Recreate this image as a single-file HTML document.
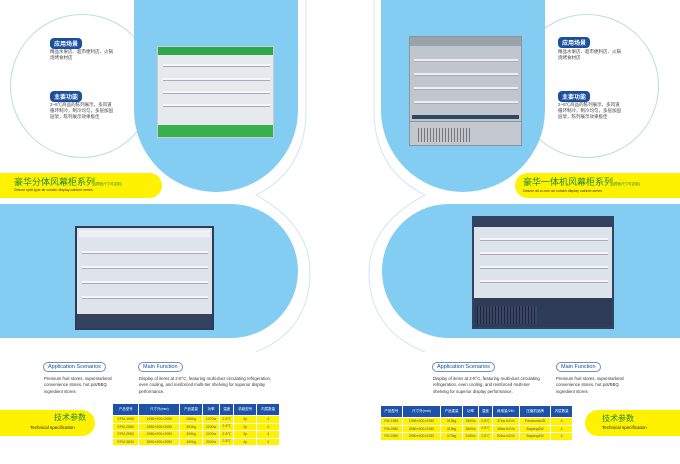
<!DOCTYPE html>
<html><head><meta charset="utf-8"><style>
*{margin:0;padding:0;box-sizing:border-box}
body{width:680px;height:464px;background:#fff;position:relative;overflow:hidden;font-family:"Liberation Sans","Noto Sans CJK SC",sans-serif}
.a{position:absolute}
.blue{background:#82cdf1}
.ring{border:1px solid #b7dde8;border-radius:50%}
.tag{background:#1b4f9c;color:#fff;font-size:6px;padding:1px 4px;border-radius:4px;font-weight:bold}
.cn{font-size:4.5px;color:#444;line-height:6px}
.yel{background:#fff200}
.pill{border:1px solid #6a8fc0;border-radius:6px;font-size:5.5px;color:#1e4a8a;padding:1px 4px}
.en{font-size:4.3px;color:#333;line-height:6.3px}
table{border-collapse:separate;border-spacing:1px;font-size:3.5px;text-align:center}
th{background:#1d52a8;color:#fff;height:11px;font-weight:normal}
td{background:#fff200;color:#555;height:6.5px}
.shelf{position:absolute;left:4%;right:3%;height:2px;background:#f4f6f8;box-shadow:0 1px 0 #aab}
</style></head><body>

<svg class="a" style="left:0;top:0" width="680" height="464">
<g fill="none" stroke="#c4e2ec" stroke-width="0.8">
<path d="M306,0 L306,110 Q306,170 256,195 Q310,225 310,272 Q310,330 256,352"/>
<path d="M374,0 L374,110 Q374,170 425,195 Q369,225 369,272 Q369,330 425,352"/>
</g></svg>

<!-- LEFT PAGE -->
<div class="a ring" style="left:10px;top:14px;width:144px;height:144px"></div>
<div class="a blue" style="left:134px;top:-10px;width:164px;height:202px;border-radius:0 0 82px 82px"></div>
<div class="a tag" style="left:50px;top:38px">应用场景</div>
<div class="a cn" style="left:50px;top:49px">精品水果店、超市便利店、火锅<br>烧烤食材店</div>
<div class="a tag" style="left:50px;top:91px">主要功能</div>
<div class="a cn" style="left:50px;top:102px">2~8℃商品的陈列展示，多风道<br>循环制冷，制冷均匀，多层加固<br>层架，陈列展示效果极佳</div>

<div class="a" style="left:157px;top:46px;width:117px;height:92px;background:#e6eaee;border:1px solid #ccc">
 <div class="a" style="left:0;top:0;width:100%;height:8px;background:#2ea84a"></div>
 <div class="a" style="left:0;bottom:0;width:100%;height:12px;background:#37b04d"></div>
 <div class="shelf" style="top:17px"></div><div class="shelf" style="top:31px"></div>
 <div class="shelf" style="top:44px"></div><div class="shelf" style="top:57px"></div>
</div>

<div class="a yel" style="left:0;top:173px;width:162px;height:25px;border-radius:0 13px 13px 0"></div>
<div class="a" style="left:14px;top:175px;font-size:9px;color:#1e8a3a;white-space:nowrap">豪华分体风幕柜系列<span style="font-size:3.5px">(颜色尺寸可定制)</span></div>
<div class="a" style="left:14px;top:188px;font-size:3.6px;color:#333;white-space:nowrap">Deluxe split-type air curtain display cabinet series</div>

<div class="a blue" style="left:0;top:204px;width:298px;height:134px;border-radius:0 67px 67px 0"></div>
<div class="a" style="left:75px;top:226px;width:139px;height:104px;background:#dfe4ea;border:2px solid #2f3c58">
 <div class="a" style="left:2px;top:2px;right:2px;height:7px;background:#eef0f4"></div>
 <div class="a" style="left:0;bottom:0;width:100%;height:14px;background:#34425f"></div>
 <div class="shelf" style="top:23px"></div><div class="shelf" style="top:38px"></div>
 <div class="shelf" style="top:53px"></div><div class="shelf" style="top:68px"></div>
</div>

<div class="a pill" style="left:43px;top:362px">Application Scenarios</div>
<div class="a en" style="left:44px;top:376px">Premium fruit stores, supermarkets/<br>convenience stores, hot pot/BBQ<br>ingredient stores</div>
<div class="a pill" style="left:138px;top:362px">Main Function</div>
<div class="a en" style="left:139px;top:376px">Display of items at 2-8°C, featuring multi-duct circulating refrigeration,<br>even cooling, and reinforced multi-tier shelving for superior display<br>performance.</div>

<div class="a yel" style="left:0;top:410px;width:95px;height:26px;border-radius:0 13px 13px 0"></div>
<div class="a" style="left:54px;top:412px;font-size:8px;color:#1e8a3a">技术参数</div>
<div class="a" style="left:30px;top:425px;font-size:4.5px;color:#222">Technical specification</div>
<table class="a" style="left:112px;top:403px;width:168px">
<tr><th>产品型号</th><th>尺寸外(mm)</th><th>产品重量</th><th>功率</th><th>温度</th><th>机组型号</th><th>内层数量</th></tr>
<tr><td>EFM-1955</td><td>1955×900×2050</td><td>266kg</td><td>1470w</td><td>2-8℃</td><td>3p</td><td>4</td></tr>
<tr><td>EFM-2580</td><td>2580×900×2050</td><td>351kg</td><td>2200w</td><td>2-8℃</td><td>3p</td><td>4</td></tr>
<tr><td>EFM-2980</td><td>2980×900×2050</td><td>409kg</td><td>2200w</td><td>2-8℃</td><td>3p</td><td>4</td></tr>
<tr><td>EFM-3830</td><td>3830×900×2050</td><td>490kg</td><td>2940w</td><td>2-8℃</td><td>4p</td><td>4</td></tr>
</table>

<!-- RIGHT PAGE -->
<div class="a ring" style="left:515px;top:14px;width:144px;height:144px"></div>
<div class="a blue" style="left:381px;top:-10px;width:164px;height:202px;border-radius:0 0 82px 82px"></div>
<div class="a tag" style="left:558px;top:37px">应用场景</div>
<div class="a cn" style="left:558px;top:49px">精品水果店、超市便利店、火锅<br>烧烤食材店</div>
<div class="a tag" style="left:558px;top:91px">主要功能</div>
<div class="a cn" style="left:558px;top:102px">2~8℃商品的陈列展示，多风道<br>循环制冷，制冷均匀，多层加固<br>层架，陈列展示效果极佳</div>

<div class="a" style="left:409px;top:36px;width:113px;height:110px;background:#bfc6cc;border:1px solid #8c959d">
 <div class="a" style="left:0;top:0;width:100%;height:9px;background:#9aa3ab"></div>
 <div class="a" style="left:2px;top:78px;right:2px;height:4px;background:#2f4760"></div>
 <div class="a" style="left:0;bottom:0;width:100%;height:24px;background:#c2c8cd;border-top:1px solid #8c959d"></div>
 <div class="a" style="left:8px;bottom:3px;width:52px;height:14px;background:repeating-linear-gradient(90deg,#777 0 1px,#c2c8cd 1px 3px)"></div>
 <div class="shelf" style="top:22px;background:#eee"></div><div class="shelf" style="top:36px;background:#eee"></div>
 <div class="shelf" style="top:50px;background:#eee"></div><div class="shelf" style="top:64px;background:#eee"></div>
</div>

<div class="a yel" style="left:515px;top:173px;width:170px;height:25px;border-radius:13px 0 0 13px"></div>
<div class="a" style="left:523px;top:175px;font-size:9px;color:#1e8a3a;white-space:nowrap">豪华一体机风幕柜系列<span style="font-size:3.5px">(颜色尺寸可定制)</span></div>
<div class="a" style="left:523px;top:189px;font-size:3.6px;color:#333;white-space:nowrap">Deluxe all-in-one air curtain display cabinet series</div>

<div class="a blue" style="left:382px;top:204px;width:300px;height:134px;border-radius:67px 0 0 67px"></div>
<div class="a" style="left:472px;top:216px;width:142px;height:113px;background:#dde3ea;border:2px solid #34425f">
 <div class="a" style="left:0;top:0;width:100%;height:9px;background:#34425f"></div>
 <div class="a" style="left:0;bottom:0;width:100%;height:29px;background:#2f3c58"></div>
 <div class="a" style="left:3px;bottom:3px;width:60px;height:18px;background:repeating-linear-gradient(90deg,#1e2638 0 1px,#3a4868 1px 3px)"></div>
 <div class="shelf" style="top:20px"></div><div class="shelf" style="top:34px"></div>
 <div class="shelf" style="top:48px"></div><div class="shelf" style="top:62px"></div>
</div>

<div class="a pill" style="left:432px;top:362px">Application Scenarios</div>
<div class="a en" style="left:433px;top:376px">Display of items at 2-8°C, featuring multi-duct circulating<br>refrigeration, even cooling, and reinforced multi-tier<br>shelving for superior display performance.</div>
<div class="a pill" style="left:556px;top:362px">Main Function</div>
<div class="a en" style="left:556px;top:376px">Premium fruit stores, supermarkets/<br>convenience stores, hot pot/BBQ<br>ingredient stores</div>

<table class="a" style="left:380px;top:405px;width:193px">
<tr><th>产品型号</th><th>尺寸外(mm)</th><th>产品重量</th><th>功率</th><th>温度</th><th>耗电量/24h</th><th>压缩机品牌</th><th>内层数量</th></tr>
<tr><td>FM-1955</td><td>1955×900×2050</td><td>315kg</td><td>1500w</td><td>2-8℃</td><td>37kw.h/24h</td><td>Panasonic2B</td><td>4</td></tr>
<tr><td>FM-2580</td><td>2580×900×2050</td><td>415kg</td><td>1800w</td><td>2-8℃</td><td>40kw.h/24h</td><td>Bayang3W</td><td>4</td></tr>
<tr><td>FM-2980</td><td>2980×900×2050</td><td>470kg</td><td>2180w</td><td>2-8℃</td><td>52kw.h/24h</td><td>Bayang4W</td><td>4</td></tr>
</table>

<div class="a yel" style="left:585px;top:410px;width:100px;height:26px;border-radius:13px 0 0 13px"></div>
<div class="a" style="left:602px;top:413px;font-size:8px;color:#1e8a3a">技术参数</div>
<div class="a" style="left:602px;top:425px;font-size:4.5px;color:#222">Technical specification</div>
</body></html>
